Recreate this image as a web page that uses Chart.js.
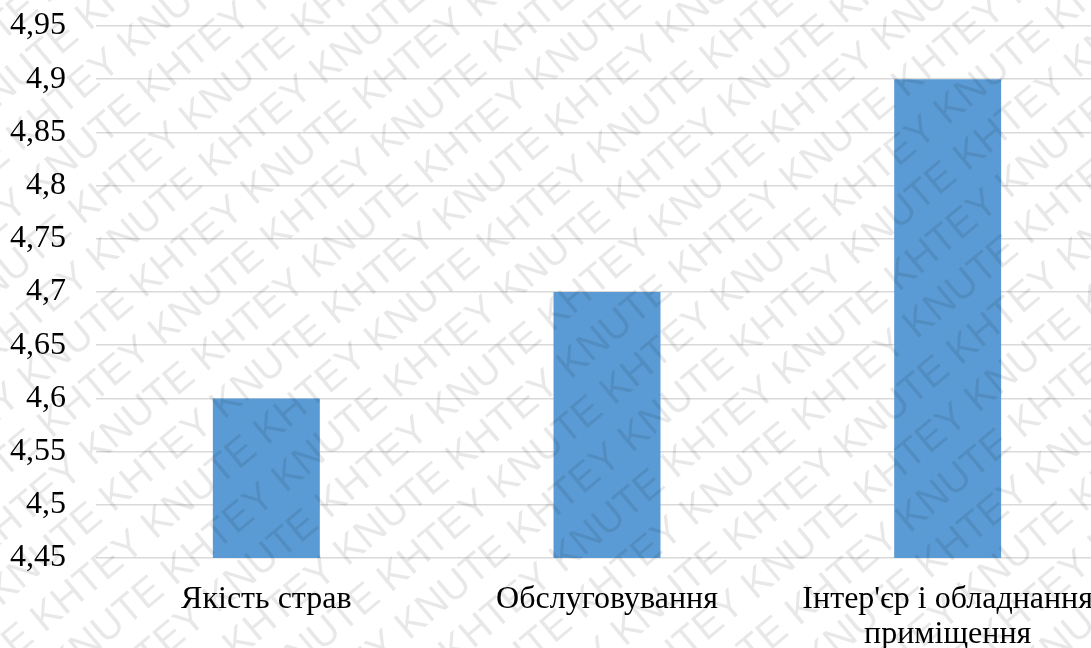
<!DOCTYPE html>
<html>
<head>
<meta charset="utf-8">
<script src="https://cdn.jsdelivr.net/npm/chart.js@4"></script>
<style>
  html, body { margin: 0; padding: 0; background: #fff; overflow: hidden; }
  #wrap { position: relative; width: 1118px; height: 648px; }
</style>
</head>
<body>
<div id="wrap"><canvas id="c"></canvas></div>
<script>
const categories = ['Якість страв', 'Обслуговування', ["Інтер'єр і обладнання", 'приміщення']];
const values = [4.6, 4.7, 4.9];
const yTicks = [4.45, 4.5, 4.55, 4.6, 4.65, 4.7, 4.75, 4.8, 4.85, 4.9, 4.95];
const watermarkText = 'KHTEY KNUTE ';

const watermark = {
  id: 'watermark',
  afterDraw(chart) {
    const ctx = chart.ctx;
    ctx.save();
    ctx.fillStyle = 'rgba(0,0,0,0.09)';
    ctx.font = '40px "Liberation Sans", Arial, sans-serif';
    ctx.textBaseline = 'middle';
    ctx.translate(545, 324);
    ctx.rotate(-40 * Math.PI / 180);
    const line = watermarkText.repeat(12);
    const w = ctx.measureText(line).width;
    for (let r = -16; r <= 16; r++) {
      const off = (r % 2 === 0) ? 0 : 130;
      ctx.fillText(line, -w / 2 + off, r * 48);
    }
    ctx.restore();
  }
};

const serif = '"Liberation Serif", "Times New Roman", serif';

new Chart(document.getElementById('c'), {
  type: 'bar',
  data: {
    labels: categories,
    datasets: [{
      data: values,
      backgroundColor: '#5b9bd5',
      borderWidth: 0,
      categoryPercentage: 1,
      barPercentage: 0.314
    }]
  },
  options: {
    responsive: true,
    maintainAspectRatio: false,
    animation: false,
    layout: { padding: { top: 26, bottom: 0, left: 0, right: 0 } },
    plugins: { legend: { display: false }, tooltip: { enabled: false } },
    scales: {
      x: {
        grid: { display: false, drawTicks: false },
        border: { display: false },
        afterFit(axis) { axis.height = 90; },
        ticks: {
          color: '#000',
          font: { family: serif, size: 32, lineHeight: 1.1 },
          padding: 24,
          maxRotation: 0,
          autoSkip: false
        }
      },
      y: {
        min: 4.45,
        max: 4.95,
        afterBuildTicks(axis) { axis.ticks = yTicks.map(v => ({ value: v })); },
        afterFit(axis) { axis.width = 96; axis.paddingTop = 0; },
        grid: { color: '#d9d9d9', lineWidth: 1.5, drawTicks: false },
        border: { display: false },
        ticks: {
          color: '#000',
          font: { family: serif, size: 32 },
          padding: 30,
          callback: v => String(Math.round(v * 100) / 100).replace('.', ',')
        }
      }
    }
  },
  plugins: [watermark]
});
</script>
</body>
</html>
